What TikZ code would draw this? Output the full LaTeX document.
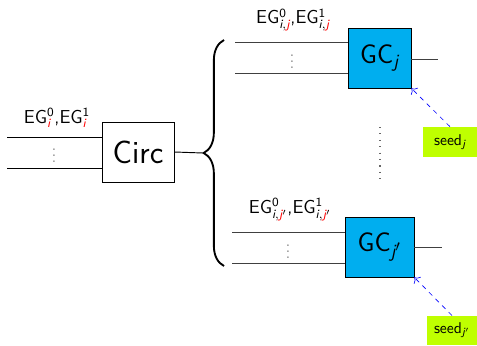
\documentclass[tikz,border=0pt]{standalone}
\usepackage{amsmath}
\usepackage{xcolor}
\usetikzlibrary{positioning,decorations.pathreplacing,arrows.meta}

\definecolor{gcblue}{RGB}{0,174,239}
\definecolor{seedgreen}{RGB}{191,255,0}
\newcommand{\sv}[1]{\textsf{\itshape #1}}
\newcommand{\rv}[1]{\textcolor{red}{\sv{#1}}}

\tikzset{
  wire/.style={black, line width=0.6pt},
  gatebox/.style={draw=black, inner sep=0pt, font=\sffamily},
  seedbox/.style={fill=seedgreen, inner sep=0pt, font=\sffamily},
  seedarrow/.style={blue, dashed, -{To[length=3pt]}},
  eglabel/.style={font=\sffamily\large, inner sep=1pt},
}

\begin{document}
\begin{tikzpicture}[x=0.0225cm, y=-0.0225cm]
  \useasboundingbox (0,0) rectangle (477,345);

  % garbling circuit
  \node[gatebox, minimum width=1.62cm, minimum height=1.35cm, font=\sffamily\huge] (circ) at (138,152) {Circ};
  \coordinate (inA) at (7,137);
  \coordinate (inB) at (7,168);
  \draw[wire] (inA) -- (inA -| circ.west);
  \draw[wire] (inB) -- (inB -| circ.west);
  \node[gray] (dotsL) at (54,151) {$\vdots$};
  \node[eglabel] (lblL) at (57,118) {EG$^{\textsf{0}}_{\rv{i}}$,EG$^{\textsf{1}}_{\rv{i}}$};

  % brace splitting to the copies
  \coordinate (tip) at (203,153);
  \draw[wire] (circ.east) -- (tip);
  \draw[line width=1.2pt, decorate, decoration={brace, amplitude=13pt}] (224,266) -- (224,40);

  % copy j
  \node[gatebox, fill=gcblue, minimum width=1.42cm, minimum height=1.35cm, font=\sffamily\LARGE] (gcj) at (379.5,58) {GC$_{\sv{j}}$};
  \coordinate (jA) at (235,42);
  \coordinate (jB) at (235,73);
  \draw[wire, black!75] (jA) -- (jA -| gcj.west);
  \draw[wire, black!75] (jB) -- (jB -| gcj.west);
  \node[gray] (dotsj) at (292,57) {$\vdots$};
  \node[eglabel] (lblj) at (293,20) {EG$^{\textsf{0}}_{\sv{i},\rv{j}}$,EG$^{\textsf{1}}_{\sv{i},\rv{j}}$};
  \coordinate (outj) at (438,59);
  \draw[wire, black!75] (gcj.east |- outj) -- (outj);
  \node[seedbox, minimum width=1.215cm, minimum height=0.675cm] (seedj) at (450,142) {seed$_{\sv{j}}$};
  \draw[seedarrow] (seedj.north) -- (gcj.south east);

  % more copies
  \coordinate (midA) at (380,127);
  \coordinate (midB) at (380,179);
  \draw[gray!80!black, line width=0.7pt, dash pattern=on 0.7pt off 3.4pt] (midA) -- (midB);

  % copy j'
  \node[gatebox, fill=gcblue, minimum width=1.55cm, minimum height=1.35cm, font=\sffamily\LARGE] (gcjp) at (379.5,247) {GC$_{\sv{j}'}$};
  \coordinate (jpA) at (232,232);
  \coordinate (jpB) at (232,263);
  \draw[wire, black!75] (jpA) -- (jpA -| gcjp.west);
  \draw[wire, black!75] (jpB) -- (jpB -| gcjp.west);
  \node[gray] (dotsjp) at (288,247) {$\vdots$};
  \node[eglabel] (lbljp) at (290,210) {EG$^{\textsf{0}}_{\sv{i},\rv{j}'}$,EG$^{\textsf{1}}_{\sv{i},\rv{j}'}$};
  \coordinate (outjp) at (442,247);
  \draw[wire, black!75] (gcjp.east |- outjp) -- (outjp);
  \node[seedbox, minimum width=1.125cm, minimum height=0.66cm] (seedjp) at (452,330.5) {seed$_{\sv{j}'}$};
  \draw[seedarrow] (seedjp.north) -- (gcjp.south east);
\end{tikzpicture}
\end{document}
